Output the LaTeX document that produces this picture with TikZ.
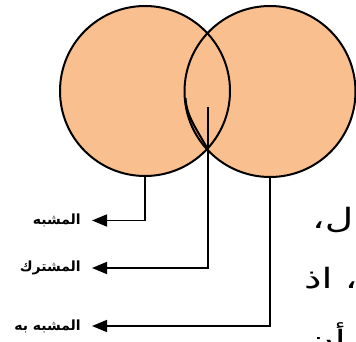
\documentclass[tikz,border=0pt]{standalone}
\usepackage{fontspec}
\usetikzlibrary{arrows.meta}
\newfontfamily\arabicfont[Script=Arabic]{DejaVu Sans}
\newfontfamily\bodyfont[Script=Arabic,FakeStretch=1.4]{DejaVu Sans}
\TeXXeTstate=1
\definecolor{peach}{HTML}{F9BF8F}
\tikzset{
  disc/.style={circle, fill=peach, minimum size=170pt, inner sep=0pt, outer sep=0pt},
  rim/.style={draw=black, line width=2pt},
  leader/.style={draw=black, line width=1.6pt, -{Triangle[length=15pt,width=12pt]}},
  tag/.style={anchor=east, inner sep=0pt, font=\arabicfont\bfseries\fontsize{14}{16}\selectfont},
  body/.style={anchor=base west, inner sep=0pt, font=\bodyfont\fontsize{28}{32}\selectfont},
}
\begin{document}
\begin{tikzpicture}[x=1pt,y=1pt]
\useasboundingbox (0,0) rectangle (356,-342);
\clip (0,0) rectangle (356,-342);
% two overlapping discs
\node[disc] (L) at (145,-91) {};
\node[disc] (R) at (270,-91.5) {};
\draw[rim] (L.center) circle[radius=85];
\draw[rim] (R.center) circle[radius=85.5];
% inner edge of the shared region
\draw[rim] (185.6,-98) .. controls (186,-115) and (197,-130) .. (207.5,-148.6);
\coordinate (lens) at (208,-107);
% labels
\node[tag] (t1) at (81,-220.5) {\beginR المشبه\endR};
\node[tag] (t2) at (81,-268) {\beginR المشترك\endR};
\node[tag] (t3) at (81,-326) {\beginR المشبه به\endR};
\draw[leader] (L.south) |- ([xshift=11pt]t1.east);
\draw[leader] (lens) |- ([xshift=11pt]t2.east);
\draw[leader] (R.south) |- ([xshift=11pt]t3.east);
% running text at the right edge
\node[body] (p1) at (312,-228) {\beginR قال،\endR};
\node[body] (p2) at (304,-288) {\beginR صفة، اذ\endR};
\node[body] (p3) at (306,-350) {\beginR أن\endR};
\end{tikzpicture}
\end{document}
